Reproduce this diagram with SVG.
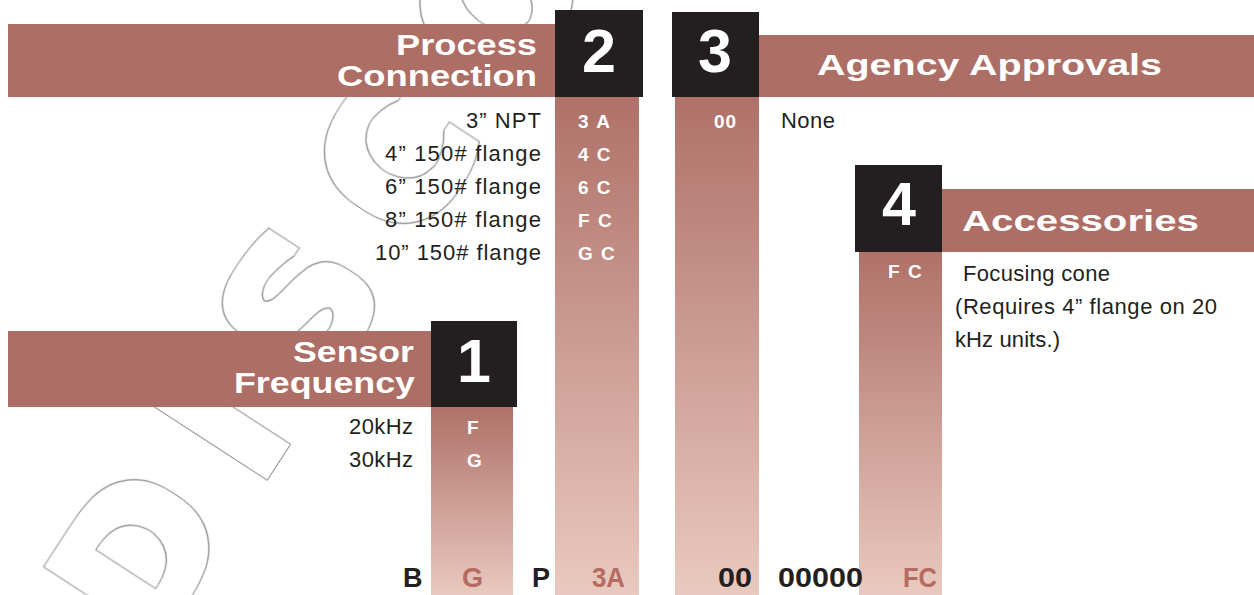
<svg xmlns="http://www.w3.org/2000/svg" width="1254" height="595" viewBox="0 0 1254 595">
<defs>
<linearGradient id="colg" x1="0" y1="0" x2="0" y2="1">
<stop offset="0" stop-color="#af7168"/>
<stop offset="0.5" stop-color="#cc9d93"/>
<stop offset="1" stop-color="#e9c9bf"/>
</linearGradient>
<filter id="hollow" x="-10%" y="-10%" width="120%" height="120%">
<feMorphology in="SourceAlpha" operator="dilate" radius="5.4" result="outer"/>
<feMorphology in="SourceAlpha" operator="dilate" radius="3.8" result="inner"/>
<feComposite in="outer" in2="inner" operator="out" result="ring"/>
<feFlood flood-color="#8f8f92"/>
<feComposite in2="ring" operator="in"/>
</filter>
<style>
.bar{fill:#ad6e65}
.box{fill:#231f20}
.col{fill:url(#colg)}
.num{font-family:"Liberation Sans",Arial,sans-serif;font-weight:bold;font-size:61px;fill:#fff;text-anchor:middle}
.hd{font-family:"Liberation Sans",Arial,sans-serif;font-weight:bold;font-size:29px;fill:#fff}
.code{font-family:"Liberation Sans",Arial,sans-serif;font-weight:bold;font-size:19px;fill:#fff;letter-spacing:1.5px}
.lbl{font-family:"Liberation Sans",Arial,sans-serif;font-size:22px;fill:#231f20}
.bot{font-family:"Liberation Sans",Arial,sans-serif;font-weight:bold;font-size:27px}
.bk{fill:#231f20}
.rd{fill:#b56b62}
.wm{font-family:"DejaVu Sans","Liberation Sans",sans-serif;font-weight:bold;font-size:180px;fill:#000;letter-spacing:45px;filter:url(#hollow)}
</style>
</defs>
<rect width="1254" height="595" fill="#fff"/>
<g id="watermark">
<text class="wm" transform="translate(151,651) rotate(-57)">DISCO</text>
</g>
<g id="connectors"/>
<g id="node-2-process-connection">
<rect class="bar" x="8" y="24" width="548" height="73"/>
<rect class="col" x="555" y="97" width="84" height="498"/>
<rect class="box" x="555" y="10" width="88" height="87"/>
<text class="num" x="599" y="72">2</text>
<text class="hd" x="396" y="55" textLength="141" lengthAdjust="spacingAndGlyphs">Process</text>
<text class="hd" x="337" y="86" textLength="200" lengthAdjust="spacingAndGlyphs">Connection</text>
<text class="lbl" x="466" y="128" textLength="75" lengthAdjust="spacing">3” NPT</text>
<text class="lbl" x="385" y="161" textLength="156" lengthAdjust="spacing">4” 150# flange</text>
<text class="lbl" x="385" y="194" textLength="156" lengthAdjust="spacing">6” 150# flange</text>
<text class="lbl" x="385" y="227" textLength="156" lengthAdjust="spacing">8” 150# flange</text>
<text class="lbl" x="375" y="260" textLength="166" lengthAdjust="spacing">10” 150# flange</text>
<text class="code" x="578" y="128">3 A</text>
<text class="code" x="578" y="161">4 C</text>
<text class="code" x="578" y="194">6 C</text>
<text class="code" x="578" y="227">F C</text>
<text class="code" x="578" y="260">G C</text>
</g>
<g id="node-3-agency-approvals">
<rect class="bar" x="759" y="35" width="495" height="62"/>
<rect class="col" x="675" y="97" width="84" height="498"/>
<rect class="box" x="672" y="12" width="87" height="85"/>
<text class="num" x="715" y="72">3</text>
<text class="hd" x="817" y="75" textLength="345" lengthAdjust="spacingAndGlyphs">Agency Approvals</text>
<text class="code" x="714" y="128" style="letter-spacing:1px">00</text>
<text class="lbl" x="781" y="128" textLength="54" lengthAdjust="spacing">None</text>
</g>
<g id="node-4-accessories">
<rect class="bar" x="942" y="189" width="312" height="63"/>
<rect class="col" x="859" y="252" width="83" height="343"/>
<rect class="box" x="855" y="165" width="87" height="87"/>
<text class="num" x="899" y="225">4</text>
<text class="hd" x="962" y="231" textLength="237" lengthAdjust="spacingAndGlyphs">Accessories</text>
<text class="code" x="888" y="278">F C</text>
<text class="lbl" x="963" y="281" textLength="147" lengthAdjust="spacing">Focusing cone</text>
<text class="lbl" x="955" y="314" textLength="262" lengthAdjust="spacing">(Requires 4” flange on 20</text>
<text class="lbl" x="955" y="347" textLength="105" lengthAdjust="spacing">kHz units.)</text>
</g>
<g id="node-1-sensor-frequency">
<rect class="bar" x="8" y="331" width="423" height="76"/>
<rect class="col" x="431" y="407" width="82" height="188"/>
<rect class="box" x="431" y="321" width="86" height="86"/>
<text class="num" x="474" y="382">1</text>
<text class="hd" x="293" y="362" textLength="121" lengthAdjust="spacingAndGlyphs">Sensor</text>
<text class="hd" x="234" y="393" textLength="181" lengthAdjust="spacingAndGlyphs">Frequency</text>
<text class="lbl" x="349" y="434" textLength="64" lengthAdjust="spacing">20kHz</text>
<text class="lbl" x="349" y="467" textLength="64" lengthAdjust="spacing">30kHz</text>
<text class="code" x="467" y="434">F</text>
<text class="code" x="467" y="467">G</text>
</g>
<g id="model-code">
<text class="bot bk" x="403" y="587">B</text>
<text class="bot rd" x="462" y="587">G</text>
<text class="bot bk" x="532" y="587">P</text>
<text class="bot rd" x="592" y="587" textLength="33" lengthAdjust="spacingAndGlyphs">3A</text>
<text class="bot bk" x="718" y="587" textLength="34" lengthAdjust="spacingAndGlyphs">00</text>
<text class="bot bk" x="778" y="587" textLength="85" lengthAdjust="spacingAndGlyphs">00000</text>
<text class="bot rd" x="903" y="587" textLength="34" lengthAdjust="spacingAndGlyphs">FC</text>
</g>
</svg>
